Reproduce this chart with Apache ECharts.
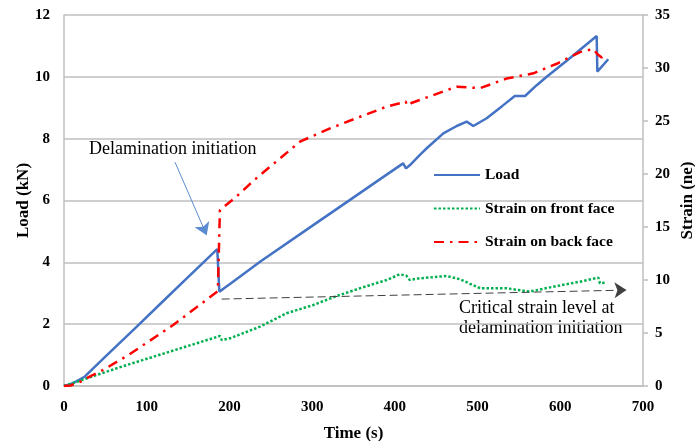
<!DOCTYPE html>
<html>
<head>
    <meta charset="UTF-8">
    <title>Load and strain vs time</title>
    <script src="https://cdn.jsdelivr.net/npm/echarts@6/dist/echarts.min.js"></script>
    <style>
        html, body { margin: 0; padding: 0; background: #fff; }
        #chart { width: 695px; height: 441px; }
    </style>
</head>
<body>
<div id="chart"></div>
<script>
    // load (kN) vs time (s)
    var loadTime = [0, 8, 15, 25, 50, 88, 120, 150, 185.3, 187.8, 193, 200.7, 237, 300, 345.8, 380, 410, 413.5, 418, 430, 438.5, 458.6, 474.8, 486.8, 494.9, 511, 530, 545, 557.4, 571.5, 583.6, 610, 644, 644.8, 658];
    var loadVals = [0, 0.06, 0.15, 0.3, 0.95, 1.92, 2.75, 3.52, 4.43, 3.05, 3.15, 3.3, 4.02, 5.18, 6.02, 6.65, 7.2, 7.04, 7.14, 7.47, 7.69, 8.17, 8.41, 8.55, 8.41, 8.66, 9.06, 9.38, 9.38, 9.73, 10.0, 10.57, 11.32, 10.17, 10.57];

    // strain on front face
    var frontTime = [0, 40, 75.8, 120, 160, 188.6, 190.6, 200.7, 237, 269, 301.4, 327.6, 357.9, 390, 406, 414, 418, 430, 462.6, 478.8, 503, 535, 563, 591.6, 623.8, 646, 648, 656];
    var frontVals = [0, 1.05, 1.98, 3.05, 4.02, 4.72, 4.34, 4.5, 5.6, 6.86, 7.64, 8.43, 9.22, 10.0, 10.54, 10.4, 10.0, 10.16, 10.38, 10.07, 9.22, 9.22, 8.9, 9.37, 9.84, 10.22, 9.69, 9.75];

    // strain on back face
    var backTime = [0, 8, 20, 31, 47, 77.8, 132, 174.5, 186, 188.5, 206, 231, 257, 285.3, 321.6, 357.9, 390, 410, 413, 415, 420, 430, 474.8, 503, 535, 567.5, 595.7, 623.8, 640, 645, 650, 654];
    var backVals = [0, 0.05, 0.4, 0.88, 1.5, 2.92, 5.75, 8.27, 8.96, 16.6, 17.7, 19.5, 21.2, 23.05, 24.3, 25.4, 26.35, 26.75, 26.85, 26.45, 26.7, 26.98, 28.24, 28.1, 29.0, 29.5, 30.4, 31.5, 31.8, 31.3, 31.0, 31.2];

    // annotations (time, value)
    var initArrow = [[134.2, 7.24], [172.5, 4.88]];
    var criticalLine = [[190.6, 8.2], [680, 9.05]];

    function zip(xs, ys) {
        var out = [];
        for (var i = 0; i < xs.length; i++) out.push([xs[i], ys[i]]);
        return out;
    }

    var serif = 'Liberation Serif';
    var gray = '#bfbfbf';

    var chart = echarts.init(document.getElementById('chart'));

    chart.setOption({
        animation: false,
        grid: { left: 64, right: 52, top: 15, bottom: 55, outerBoundsMode: 'none', containLabel: false },
        legend: {
            orient: 'vertical',
            left: 433,
            top: 167,
            padding: 0,
            itemWidth: 46,
            itemHeight: 14,
            itemGap: 17.5,
            itemStyle: { opacity: 0 },
            textStyle: { fontFamily: serif, fontWeight: 'bold', fontSize: 15.5, color: '#000' },
            data: ['Load', 'Strain on front face', 'Strain on back face']
        },
        xAxis: {
            type: 'value',
            min: 0, max: 700, interval: 100,
            name: 'Time (s)',
            nameLocation: 'middle',
            nameGap: 39,
            nameTextStyle: { fontFamily: serif, fontWeight: 'bold', fontSize: 17, color: '#000' },
            axisLine: { lineStyle: { color: gray, width: 1.5 } },
            axisTick: { show: false },
            axisLabel: { fontFamily: serif, fontWeight: 'bold', fontSize: 15, color: '#000', margin: 14 },
            splitLine: { show: false }
        },
        yAxis: [{
            type: 'value',
            min: 0, max: 12, interval: 2,
            name: 'Load (kN)',
            nameLocation: 'middle',
            nameRotate: 90,
            nameGap: 32,
            nameMoveOverlap: false,
            nameTextStyle: { fontFamily: serif, fontWeight: 'bold', fontSize: 17, color: '#000' },
            axisLine: { show: true, lineStyle: { color: gray, width: 1.5 } },
            axisTick: { show: false },
            axisLabel: { fontFamily: serif, fontWeight: 'bold', fontSize: 15, color: '#000', margin: 14 },
            splitLine: { show: true, lineStyle: { color: gray, width: 1.5 } }
        }, {
            type: 'value',
            position: 'right',
            min: 0, max: 35, interval: 5,
            name: 'Strain (ne)',
            nameLocation: 'middle',
            nameRotate: 90,
            nameGap: 36,
            nameMoveOverlap: false,
            nameTextStyle: { fontFamily: serif, fontWeight: 'bold', fontSize: 17, color: '#000' },
            axisLine: { show: true, lineStyle: { color: gray, width: 1.5 } },
            axisTick: { show: true, length: 5, lineStyle: { color: gray, width: 1.5 } },
            axisLabel: { fontFamily: serif, fontWeight: 'bold', fontSize: 15, color: '#000', margin: 12 },
            splitLine: { show: false }
        }],
        series: [{
            name: 'Load',
            type: 'line',
            yAxisIndex: 0,
            showSymbol: false,
            symbol: 'none',
            data: zip(loadTime, loadVals),
            lineStyle: { color: '#4472c4', width: 2.5 },
            itemStyle: { color: '#4472c4' },
            markLine: {
                silent: true,
                symbol: ['none', 'arrow'],
                symbolSize: 12,
                label: { show: false },
                lineStyle: { color: '#5b8bd0', width: 1, type: 'solid' },
                data: [[{ coord: initArrow[0] }, { coord: initArrow[1] }]]
            }
        }, {
            name: 'Strain on front face',
            type: 'line',
            yAxisIndex: 1,
            showSymbol: false,
            symbol: 'none',
            data: zip(frontTime, frontVals),
            lineStyle: { color: '#00b050', width: 2.5, type: [2.5, 2] },
            itemStyle: { color: '#00b050' },
            markLine: {
                silent: true,
                symbol: ['none', 'arrow'],
                symbolSize: 12,
                label: { show: false },
                lineStyle: { color: '#404040', width: 1, type: [8, 4] },
                data: [[{ coord: criticalLine[0] }, { coord: criticalLine[1] }]]
            }
        }, {
            name: 'Strain on back face',
            type: 'line',
            yAxisIndex: 1,
            showSymbol: false,
            symbol: 'none',
            data: zip(backTime, backVals),
            lineStyle: { color: '#ff0000', width: 2.5, type: [10, 6, 2.5, 6] },
            itemStyle: { color: '#ff0000' }
        }],
        graphic: [{
            type: 'text',
            left: 89, top: 140,
            style: { text: 'Delamination initiation', font: '18px "Liberation Serif"', fill: '#000' }
        }, {
            type: 'text',
            left: 459, top: 298,
            style: { text: 'Critical strain level at\ndelamination initiation', font: '18px "Liberation Serif"', fill: '#000', lineHeight: 20 }
        }]
    });
</script>
</body>
</html>
